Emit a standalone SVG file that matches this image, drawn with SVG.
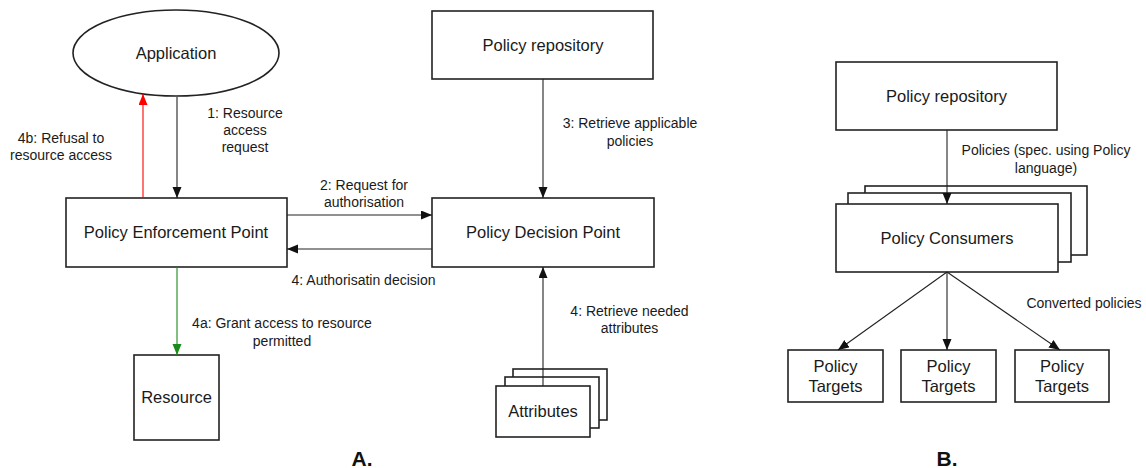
<svg xmlns="http://www.w3.org/2000/svg" width="1146" height="468" viewBox="0 0 1146 468">
  <defs>
    <style>
      .box { fill: #ffffff; stroke: #222222; stroke-width: 1.6; }
      .node { font-family: "Liberation Sans", Arial, sans-serif; font-size: 16.5px; fill: #1a1a1a; text-anchor: middle; }
      .lbl { font-family: "Liberation Sans", Arial, sans-serif; font-size: 14px; fill: #1a1a1a; text-anchor: middle; }
      .cap { font-family: "Liberation Sans", Arial, sans-serif; font-size: 21px; font-weight: bold; fill: #111111; text-anchor: middle; }
      .edge { fill: none; stroke: #222222; stroke-width: 1.1; }
      .edge.red { stroke: #ff0000; }
      .edge.green { stroke: #1a8a1a; }
    </style>
    <marker id="arrow" markerUnits="userSpaceOnUse" markerWidth="12" markerHeight="10" refX="11" refY="4.5" orient="auto">
      <path d="M0,0 L11,4.5 L0,9 z" fill="#111111"/>
    </marker>
    <marker id="arrow-red" markerUnits="userSpaceOnUse" markerWidth="12" markerHeight="10" refX="11" refY="4.5" orient="auto">
      <path d="M0,0 L11,4.5 L0,9 z" fill="#ff0000"/>
    </marker>
    <marker id="arrow-green" markerUnits="userSpaceOnUse" markerWidth="12" markerHeight="10" refX="11" refY="4.5" orient="auto">
      <path d="M0,0 L11,4.5 L0,9 z" fill="#1a8a1a"/>
    </marker>
  </defs>

  <rect width="1146" height="468" fill="#ffffff"/>

  <!-- Part A: access control flow -->
  <g id="application">
    <ellipse class="box" cx="176" cy="53" rx="103" ry="43"/>
    <text class="node" x="176" y="59">Application</text>
  </g>
  <g id="policy-repository-a">
    <rect class="box" x="432" y="11" width="221" height="68"/>
    <text class="node" x="543" y="51">Policy repository</text>
  </g>
  <g id="pep">
    <rect class="box" x="66" y="198" width="221" height="69"/>
    <text class="node" x="176" y="238">Policy Enforcement Point</text>
  </g>
  <g id="pdp">
    <rect class="box" x="432" y="198" width="222" height="69"/>
    <text class="node" x="543" y="238">Policy Decision Point</text>
  </g>
  <g id="resource">
    <rect class="box" x="134" y="355" width="85" height="85"/>
    <text class="node" x="176.5" y="403">Resource</text>
  </g>
  <g id="attributes">
    <rect class="box" x="513" y="369" width="94" height="51"/>
    <rect class="box" x="505" y="377" width="94" height="51"/>
    <rect class="box" x="496" y="386" width="94" height="51"/>
    <text class="node" x="543" y="417">Attributes</text>
  </g>

  <!-- Part B: policy distribution -->
  <g id="policy-repository-b">
    <rect class="box" x="836" y="62" width="221" height="68"/>
    <text class="node" x="946.5" y="102">Policy repository</text>
  </g>
  <g id="policy-consumers">
    <rect class="box" x="865" y="186" width="222" height="69"/>
    <rect class="box" x="848" y="193" width="223" height="69"/>
    <rect class="box" x="836" y="204" width="222" height="68"/>
    <text class="node" x="947" y="244">Policy Consumers</text>
  </g>
  <g id="policy-target-1">
    <rect class="box" x="788" y="350" width="95" height="52"/>
    <text class="node" x="835.5" y="372">Policy</text>
    <text class="node" x="835.5" y="392">Targets</text>
  </g>
  <g id="policy-target-2">
    <rect class="box" x="901" y="350" width="95" height="52"/>
    <text class="node" x="948.5" y="372">Policy</text>
    <text class="node" x="948.5" y="392">Targets</text>
  </g>
  <g id="policy-target-3">
    <rect class="box" x="1015" y="350" width="94" height="52"/>
    <text class="node" x="1062" y="372">Policy</text>
    <text class="node" x="1062" y="392">Targets</text>
  </g>

  <g id="connectors">
    <line class="edge" x1="177" y1="97" x2="177" y2="198" marker-end="url(#arrow)"/>
    <line class="edge red" x1="143" y1="198" x2="143" y2="94" marker-end="url(#arrow-red)"/>
    <line class="edge" x1="543" y1="79" x2="543" y2="198" marker-end="url(#arrow)"/>
    <line class="edge" x1="287" y1="215" x2="432" y2="215" marker-end="url(#arrow)"/>
    <line class="edge" x1="432" y1="249" x2="287" y2="249" marker-end="url(#arrow)"/>
    <line class="edge green" x1="177" y1="267" x2="177" y2="355" marker-end="url(#arrow-green)"/>
    <line class="edge" x1="543" y1="386" x2="543" y2="267" marker-end="url(#arrow)"/>
    <line class="edge" x1="947" y1="130" x2="947" y2="204" marker-end="url(#arrow)"/>
    <line class="edge" x1="947" y1="272" x2="838" y2="350" marker-end="url(#arrow)"/>
    <line class="edge" x1="947" y1="272" x2="947" y2="350" marker-end="url(#arrow)"/>
    <line class="edge" x1="947" y1="272" x2="1060" y2="350" marker-end="url(#arrow)"/>

    <text class="lbl" x="245" y="118">1: Resource</text>
    <text class="lbl" x="245" y="135">access</text>
    <text class="lbl" x="245" y="152">request</text>
    <text class="lbl" x="61" y="143">4b: Refusal to</text>
    <text class="lbl" x="61" y="160">resource access</text>
    <text class="lbl" x="630" y="128">3: Retrieve applicable</text>
    <text class="lbl" x="630" y="146">policies</text>
    <text class="lbl" x="364" y="190">2: Request for</text>
    <text class="lbl" x="364" y="207">authorisation</text>
    <text class="lbl" x="363.5" y="285">4: Authorisatin decision</text>
    <text class="lbl" x="282" y="328">4a: Grant access to resource</text>
    <text class="lbl" x="282" y="346">permitted</text>
    <text class="lbl" x="629.5" y="316">4: Retrieve needed</text>
    <text class="lbl" x="629.5" y="333">attributes</text>
    <text class="lbl" x="1046" y="155">Policies (spec. using Policy</text>
    <text class="lbl" x="1046" y="173">language)</text>
    <text class="lbl" x="1084" y="308">Converted policies</text>
  </g>

  <text class="cap" x="362" y="466">A.</text>
  <text class="cap" x="947" y="466">B.</text>
</svg>
